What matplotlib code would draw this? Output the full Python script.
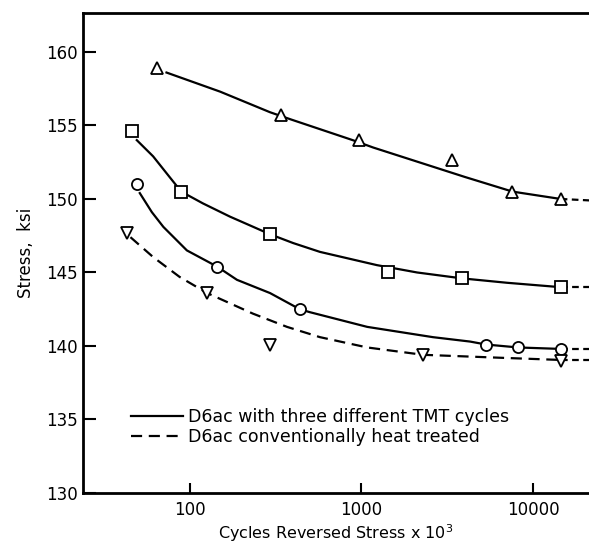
import numpy as np
import matplotlib
matplotlib.use('Agg')
import matplotlib.pyplot as plt
from matplotlib.ticker import FixedLocator, NullLocator, FixedFormatter

# measured points (cycles x 10^3, ksi)
tri_x = [64, 340, 966, 3370, 7550, 14560]
tri_y = [158.9, 155.7, 154.0, 152.65, 150.5, 150.0]
sq_x = [46, 89, 293, 1430, 3850, 14560]
sq_y = [154.6, 150.5, 147.6, 145.0, 144.6, 144.0]
circ_x = [49, 144, 437, 5320, 8190, 14560]
circ_y = [151.0, 145.4, 142.5, 140.1, 139.9, 139.8]
inv_x = [43, 126, 293, 2285, 14560]
inv_y = [147.7, 143.6, 140.1, 139.4, 139.0]

# fitted curves
tri_cx = [73, 150, 293, 390, 890, 1170, 4000, 7600, 14500]
tri_cy = [158.6, 157.3, 155.9, 155.4, 154.0, 153.5, 151.5, 150.5, 150.0]
sq_cx = [49, 61, 76, 89, 119, 171, 224, 293, 400, 573, 1230, 2110, 3850, 7050, 14500]
sq_cy = [154.0, 152.9, 151.5, 150.5, 149.7, 148.8, 148.2, 147.6, 147.0, 146.4,
         145.5, 145.0, 144.6, 144.3, 144.0]
circ_cx = [51, 60, 70, 96, 144, 188, 293, 437, 500, 1080, 2610, 4300, 5320, 8190, 14500]
circ_cy = [150.4, 149.1, 148.1, 146.5, 145.4, 144.5, 143.6, 142.5, 142.3, 141.3,
           140.6, 140.3, 140.1, 139.9, 139.8]
inv_cx = [45, 61, 87, 126, 164, 233, 368, 573, 1080, 2285, 6430, 14500]
inv_cy = [147.4, 146.05, 144.7, 143.6, 143.0, 142.2, 141.3, 140.6, 139.9, 139.4,
          139.2, 139.05]

tail_x = [14500, 21500]
tail_tri = [150.0, 149.9]
tail_sq = [144.0, 144.0]
tail_circ = [139.8, 139.8]
tail_inv = [139.05, 139.05]

xticks = [100, 1000, 10000]
xticklabels = ['100', '1000', '10000']
yticks = [130, 135, 140, 145, 150, 155, 160]

fig = plt.figure(figsize=(5.89, 5.45), dpi=100)
ax = fig.add_axes([83 / 589, 1 - 493 / 545, 1 - 83 / 589, (493 - 13) / 545])
ax.set_xscale('log')

lw = 1.6
ax.plot(tri_cx, tri_cy, '-', color='black', lw=lw)
ax.plot(sq_cx, sq_cy, '-', color='black', lw=lw)
ax.plot(circ_cx, circ_cy, '-', color='black', lw=lw)
ax.plot(inv_cx, inv_cy, '--', color='black', lw=lw, dashes=(5, 3))
for ty in (tail_tri, tail_sq, tail_circ, tail_inv):
    ax.plot(tail_x, ty, '--', color='black', lw=lw, dashes=(3, 2))

mk = dict(linestyle='none', mfc='white', mec='black', mew=1.3, ms=8, zorder=3)
ax.plot(tri_x, tri_y, marker='^', **mk)
ax.plot(sq_x, sq_y, marker='s', **mk)
ax.plot(circ_x, circ_y, marker='o', **mk)
ax.plot(inv_x, inv_y, marker='v', **mk)

ax.set_xlim(23.8, 21200)
ax.set_ylim(130, 162.65)
ax.xaxis.set_major_locator(FixedLocator(xticks))
ax.xaxis.set_major_formatter(FixedFormatter(xticklabels))
ax.xaxis.set_minor_locator(NullLocator())
ax.set_yticks(yticks)
ax.tick_params(axis='x', direction='in', length=7, width=1.5, labelsize=12, pad=6)
ax.tick_params(axis='y', direction='in', length=9, width=1.5, labelsize=12)
for side in ('left', 'bottom', 'top'):
    ax.spines[side].set_linewidth(2)
ax.spines['right'].set_visible(False)

ax.set_xlabel(r'Cycles Reversed Stress x $10^3$', fontsize=11.5, labelpad=2)
ax.set_ylabel('Stress,  ksi', fontsize=12, labelpad=8)

ax.plot([], [], '-', color='black', lw=lw,
        label='D6ac with three different TMT cycles')
ax.plot([], [], '--', color='black', lw=lw, dashes=(5, 3),
        label='D6ac conventionally heat treated')
ax.legend(loc='upper left', bbox_to_anchor=(0.063, 0.209), frameon=False,
          fontsize=12.5, handlelength=3.0, handletextpad=0.3, labelspacing=0.1)

fig.savefig('out.png', dpi=100)
